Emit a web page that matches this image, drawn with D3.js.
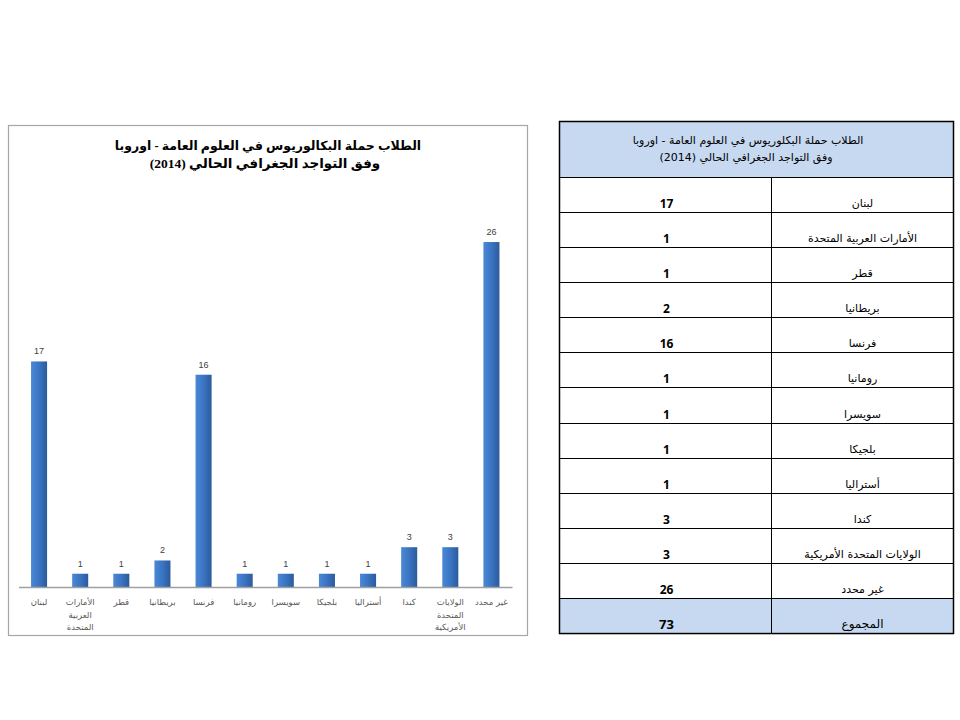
<!DOCTYPE html>
<html><head><meta charset="utf-8">
<script src="https://cdn.jsdelivr.net/npm/d3@7"></script>
<style>
html,body{margin:0;padding:0;background:#fff;}
svg{display:block;}
</style></head>
<body>
<svg id="c" width="960" height="720"></svg>
<script>
const categories = ["لبنان","الأمارات العربية المتحدة","قطر","بريطانيا","فرنسا","رومانيا","سويسرا","بلجيكا","أستراليا","كندا","الولايات المتحدة الأمريكية","غير محدد"];
const tickLabels = [["لبنان"],["الأمارات","العربية","المتحدة"],["قطر"],["بريطانيا"],["فرنسا"],["رومانيا"],["سويسرا"],["بلجيكا"],["أستراليا"],["كندا"],["الولايات","المتحدة","الأمريكية"],["غير محدد"]];
const values = [17,1,1,2,16,1,1,1,1,3,3,26];
const chartTitle = ["الطلاب حملة البكالوريوس في العلوم العامة - اوروبا","وفق التواجد الجغرافي الحالي (2014)"];
const tableTitle = ["الطلاب حملة البكلوريوس في العلوم العامة - اوروبا","وفق التواجد الجغرافي الحالي  (2014)"];
const totalLabel = "المجموع";

const svg = d3.select("#c");
const arabicFont = "'DejaVu Sans', 'Noto Sans', sans-serif";

// ---------- Chart ----------
const box = {x:8.5, y:125.5, w:519, h:510};
svg.append("rect").attr("x",box.x).attr("y",box.y).attr("width",box.w).attr("height",box.h)
  .attr("fill","#fff").attr("stroke","#a6a6a6").attr("stroke-width",1.2);

const defs = svg.append("defs");
const grad = defs.append("linearGradient").attr("id","barg").attr("x1","0").attr("x2","1").attr("y1","0").attr("y2","0");
grad.append("stop").attr("offset","0%").attr("stop-color","#4a88d6");
grad.append("stop").attr("offset","50%").attr("stop-color","#3a74c2");
grad.append("stop").attr("offset","100%").attr("stop-color","#2b5b9c");

const x = d3.scaleBand().domain(categories).range([18.5, 512]).paddingInner(0.61).paddingOuter(0.305);
const y = d3.scaleLinear().domain([0,28]).range([587, 215.5]);

svg.selectAll("rect.bar").data(values).enter().append("rect")
  .attr("class","bar")
  .attr("x",(d,i)=>x(categories[i]))
  .attr("y",d=>y(d))
  .attr("width",x.bandwidth())
  .attr("height",d=>y(0)-y(d))
  .attr("fill","url(#barg)");

svg.selectAll("text.val").data(values).enter().append("text")
  .attr("class","val")
  .attr("x",(d,i)=>x(categories[i])+x.bandwidth()/2)
  .attr("y",d=>y(d)-7)
  .attr("text-anchor","middle")
  .attr("font-family","'Liberation Sans', Arial, sans-serif")
  .attr("font-size",9)
  .attr("fill","#404040")
  .text(d=>d);

// axis
const xAxis = d3.axisBottom(x).tickSize(0).tickFormat("");
const ax = svg.append("g").attr("transform",`translate(0,${y(0)})`).call(xAxis);
ax.select(".domain").attr("stroke","#a0a0a0").attr("stroke-width",1.5);

const tl = svg.append("g");
categories.forEach((c,i)=>{
  const t = tl.append("text")
    .attr("x",x(c)+x.bandwidth()/2)
    .attr("y",y(0)+18)
    .attr("text-anchor","middle")
    .attr("font-family",arabicFont)
    .attr("font-size",8.5)
    .attr("fill","#595959");
  tickLabels[i].forEach((line,j)=>{
    t.append("tspan").attr("x",x(c)+x.bandwidth()/2).attr("dy",j===0?0:12.5).text(line);
  });
});

// title
chartTitle.forEach((line,i)=>{
  svg.append("text")
    .attr("x",i===0?268:265).attr("y",150 + i*18)
    .attr("text-anchor","middle")
    .attr("font-family","'Liberation Serif', 'DejaVu Sans', serif")
    .attr("font-weight","bold")
    .attr("font-size",i===0?12.5:13.5)
    .attr("fill","#000")
    .text(line);
});

// ---------- Table ----------
const tx0 = 559.5, tx1 = 953.5, tmid = 771.5;
const headerTop = 121, headerBottom = 177, rowH = 35.08;
const rows = categories.map((c,i)=>({name:c, value:values[i], total:false}));
rows.push({name:totalLabel, value:d3.sum(values), total:true});
const yRow = d3.scaleLinear().domain([0, rows.length]).range([headerBottom, headerBottom + rows.length*rowH]);
const tableBottom = yRow(rows.length);

svg.append("rect").attr("x",tx0).attr("y",headerTop).attr("width",tx1-tx0).attr("height",headerBottom-headerTop)
  .attr("fill","#c6d9f0");
svg.append("rect").attr("x",tx0).attr("y",yRow(rows.length-1)).attr("width",tx1-tx0).attr("height",rowH)
  .attr("fill","#c6d9f0");

tableTitle.forEach((line,i)=>{
  svg.append("text")
    .attr("x",i===0?748:746).attr("y",144 + i*17)
    .attr("text-anchor","middle")
    .attr("font-family",arabicFont)
    .attr("font-size",11)
    .attr("fill","#000")
    .text(line);
});

const g = svg.append("g");
rows.forEach((r,i)=>{
  g.append("text")
    .attr("x",(tx0+tmid)/2+1).attr("y",yRow(i+1)-4)
    .attr("text-anchor","middle")
    .attr("font-family","'Open Sans', 'Liberation Sans', sans-serif")
    .attr("font-weight","bold")
    .attr("font-size",r.total?13:12)
    .attr("fill","#000")
    .text(r.value);
  g.append("text")
    .attr("x",(tmid+tx1)/2).attr("y",yRow(i+1)-5)
    .attr("text-anchor","middle")
    .attr("font-family",arabicFont)
    .attr("font-size",r.total?12:11)
    .attr("fill","#000")
    .text(r.name);
});

// grid lines
const lines = svg.append("g").attr("stroke","#000").attr("stroke-width",1);
d3.range(0, rows.length).forEach(i=>{
  lines.append("line").attr("x1",tx0).attr("x2",tx1).attr("y1",Math.round(yRow(i))+0.5).attr("y2",Math.round(yRow(i))+0.5);
});
lines.append("line").attr("x1",tmid).attr("x2",tmid).attr("y1",headerBottom).attr("y2",tableBottom);
svg.append("rect").attr("x",tx0).attr("y",headerTop+0.5).attr("width",tx1-tx0).attr("height",tableBottom-headerTop)
  .attr("fill","none").attr("stroke","#000").attr("stroke-width",1.5);
</script>
</body></html>
